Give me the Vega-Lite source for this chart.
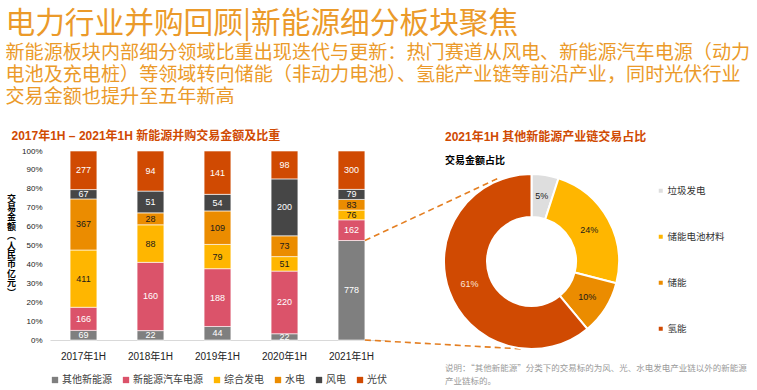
{
  "$schema": "https://vega.github.io/schema/vega-lite/v6.json",
  "background": "white",
  "padding": {"left": 5, "top": 8, "right": 0, "bottom": 0},
  "bounds": "flush",
  "spacing": 57,
  "config": {
    "view": {"stroke": null},
    "font": "Liberation Sans, Noto Sans CJK SC"
  },
  "resolve": {"scale": {"color": "independent"}, "legend": {"color": "independent"}},
  "title": {
    "text": "电力行业并购回顾|新能源细分板块聚焦",
    "subtitle": [
      "新能源板块内部细分领域比重出现迭代与更新：热门赛道从风电、新能源汽车电源（动力",
      "电池及充电桩）等领域转向储能（非动力电池）、氢能产业链等前沿产业，同时光伏行业",
      "交易金额也提升至五年新高"
    ],
    "anchor": "start",
    "frame": "bounds",
    "dx": -1,
    "font": "Noto Sans CJK SC",
    "fontSize": 29.7,
    "fontWeight": "normal",
    "color": "#EB9A2A",
    "subtitleFont": "Noto Sans CJK SC",
    "subtitleFontSize": 19.1,
    "subtitleColor": "#EB9A2A",
    "subtitleLineHeight": 21.8,
    "subtitlePadding": 5,
    "offset": 22
  },
  "datasets": {
    "deals": [
      {"year": "2017年1H", "cat": "其他新能源", "k": 1, "v": 69},
      {"year": "2017年1H", "cat": "新能源汽车电源", "k": 2, "v": 166},
      {"year": "2017年1H", "cat": "综合发电", "k": 3, "v": 411},
      {"year": "2017年1H", "cat": "水电", "k": 4, "v": 367},
      {"year": "2017年1H", "cat": "风电", "k": 5, "v": 67},
      {"year": "2017年1H", "cat": "光伏", "k": 6, "v": 277},
      {"year": "2018年1H", "cat": "其他新能源", "k": 1, "v": 22},
      {"year": "2018年1H", "cat": "新能源汽车电源", "k": 2, "v": 160},
      {"year": "2018年1H", "cat": "综合发电", "k": 3, "v": 88},
      {"year": "2018年1H", "cat": "水电", "k": 4, "v": 28},
      {"year": "2018年1H", "cat": "风电", "k": 5, "v": 51},
      {"year": "2018年1H", "cat": "光伏", "k": 6, "v": 94},
      {"year": "2019年1H", "cat": "其他新能源", "k": 1, "v": 44},
      {"year": "2019年1H", "cat": "新能源汽车电源", "k": 2, "v": 188},
      {"year": "2019年1H", "cat": "综合发电", "k": 3, "v": 79},
      {"year": "2019年1H", "cat": "水电", "k": 4, "v": 109},
      {"year": "2019年1H", "cat": "风电", "k": 5, "v": 54},
      {"year": "2019年1H", "cat": "光伏", "k": 6, "v": 141},
      {"year": "2020年1H", "cat": "其他新能源", "k": 1, "v": 22},
      {"year": "2020年1H", "cat": "新能源汽车电源", "k": 2, "v": 220},
      {"year": "2020年1H", "cat": "综合发电", "k": 3, "v": 51},
      {"year": "2020年1H", "cat": "水电", "k": 4, "v": 73},
      {"year": "2020年1H", "cat": "风电", "k": 5, "v": 200},
      {"year": "2020年1H", "cat": "光伏", "k": 6, "v": 98},
      {"year": "2021年1H", "cat": "其他新能源", "k": 1, "v": 778},
      {"year": "2021年1H", "cat": "新能源汽车电源", "k": 2, "v": 162},
      {"year": "2021年1H", "cat": "综合发电", "k": 3, "v": 76},
      {"year": "2021年1H", "cat": "水电", "k": 4, "v": 83},
      {"year": "2021年1H", "cat": "风电", "k": 5, "v": 79},
      {"year": "2021年1H", "cat": "光伏", "k": 6, "v": 300}
    ],
    "chain": [
      {"cat": "垃圾发电", "k": 1, "share": 0.05},
      {"cat": "储能电池材料", "k": 2, "share": 0.24},
      {"cat": "储能", "k": 3, "share": 0.10},
      {"cat": "氢能", "k": 4, "share": 0.61}
    ],
    "links": [
      {"x": 0.94, "y": 0.5264, "x2": 1.34, "y2": 0.857},
      {"x": 0.94, "y": 0, "x2": 1.415, "y2": -0.048}
    ]
  },
  "hconcat": [
    {
      "width": 335,
      "height": 189,
      "title": {
        "text": "2017年1H – 2021年1H 新能源并购交易金额及比重",
        "anchor": "start",
        "fontSize": 12,
        "fontWeight": "bold",
        "color": "#D04A02",
        "offset": 4,
        "dx": 5
      },
      "layer": [
        {
          "data": {"name": "deals"},
          "layer": [
            {
              "mark": {"type": "bar", "stroke": "white", "strokeWidth": 0.6},
              "encoding": {
                "x": {
                  "field": "year", "type": "nominal",
                  "scale": {"paddingInner": 0.6, "paddingOuter": 0.3},
                  "axis": {
                    "title": null, "labelAngle": 0, "labelFontSize": 10, "labelColor": "#222",
                    "ticks": false, "domainColor": "#D9D9D9", "labelPadding": 11
                  }
                },
                "y": {
                  "field": "v", "type": "quantitative", "stack": "normalize",
                  "scale": {"domain": [0, 1], "nice": false},
                  "axis": {
                    "title": ["交", "易", "金", "额", "︵", "人", "民", "币", "亿", "元", "︶"],
                    "values": [0, 0.1, 0.2, 0.3, 0.4, 0.5, 0.6, 0.7, 0.8, 0.9, 1],
                    "format": ".0%",
                    "labelFontSize": 8, "labelColor": "#222", "labelPadding": 8,
                    "ticks": false, "domain": false, "grid": false,
                    "titleFont": "Noto Sans CJK SC",
                    "titleFontSize": 9, "titleFontWeight": "bold", "titleColor": "black",
                    "titleAngle": 0, "titleAlign": "center", "titleBaseline": "middle",
                    "titleLineHeight": 9.4, "titleX": -39, "titleY": 47
                  }
                },
                "color": {
                  "field": "cat", "type": "nominal",
                  "scale": {
                    "domain": ["其他新能源", "新能源汽车电源", "综合发电", "水电", "风电", "光伏"],
                    "range": ["#7F7F7F", "#DB536A", "#FFB600", "#EB8C00", "#464646", "#D04A02"]
                  },
                  "legend": {
                    "orient": "bottom", "direction": "horizontal", "title": null,
                    "symbolType": "square", "symbolSize": 40, "symbolStrokeWidth": 0,
                    "labelFontSize": 10, "labelColor": "#404040", "labelOffset": 2,
                    "columnPadding": 9, "offset": 14
                  }
                },
                "order": {"field": "k", "type": "quantitative"}
              }
            },
            {
              "transform": [
                {"stack": "v", "groupby": ["year"], "sort": [{"field": "k"}], "offset": "normalize", "as": ["y0", "y1"]},
                {"fold": ["y0", "y1"], "as": ["end", "pos"]}
              ],
              "mark": {"type": "text", "fontSize": 9, "baseline": "middle"},
              "encoding": {
                "x": {"field": "year", "type": "nominal"},
                "y": {"aggregate": "mean", "field": "pos", "type": "quantitative", "scale": {"domain": [0, 1], "nice": false}, "axis": null},
                "detail": {"field": "cat"},
                "text": {"field": "v", "type": "quantitative"},
                "color": {
                  "condition": {"test": "datum.cat === '综合发电' || datum.cat === '水电'", "value": "#1A1A1A"},
                  "value": "white"
                }
              }
            }
          ],
          "resolve": {"axis": {"y": "independent"}}
        },
        {
          "data": {"name": "links"},
          "mark": {"type": "rule", "color": "#E47F22", "strokeWidth": 1.6, "strokeDash": [6, 4]},
          "encoding": {
            "x": {"field": "x", "type": "quantitative", "scale": {"domain": [0, 1], "nice": false, "zero": false}, "axis": null},
            "x2": {"field": "x2"},
            "y": {"field": "y", "type": "quantitative", "scale": {"domain": [0, 1], "nice": false}, "axis": null},
            "y2": {"field": "y2"}
          }
        }
      ],
      "resolve": {"scale": {"x": "independent"}, "axis": {"x": "independent", "y": "independent"}}
    },
    {
      "bounds": "flush",
      "spacing": 15,
      "vconcat": [
        {
          "width": 179,
          "height": 221,
          "title": {
            "text": "2021年1H 其他新能源产业链交易占比",
            "subtitle": "交易金额占比",
            "anchor": "start",
            "frame": "group",
            "fontSize": 12,
            "fontWeight": "bold",
            "color": "#D04A02",
            "subtitleFont": "Liberation Sans, Noto Sans CJK SC",
            "subtitleFontSize": 10,
            "subtitleFontWeight": "bold",
            "subtitleColor": "black",
            "subtitlePadding": 12,
            "offset": -16,
            "dx": 3
          },
          "data": {"name": "chain"},
          "layer": [
            {
              "mark": {"type": "arc", "innerRadius": 44.5, "outerRadius": 87.5, "stroke": "white", "strokeWidth": 2},
              "encoding": {
                "theta": {"field": "share", "type": "quantitative", "stack": true},
                "order": {"field": "k", "type": "quantitative"},
                "color": {
                  "field": "cat", "type": "nominal",
                  "scale": {
                    "domain": ["垃圾发电", "储能电池材料", "储能", "氢能"],
                    "range": ["#DEDEDE", "#FFB600", "#EB8C00", "#D04A02"]
                  },
                  "legend": {
                    "orient": "none", "legendX": 214, "legendY": 35, "title": null,
                    "direction": "vertical",
                    "symbolType": "square", "symbolSize": 16, "symbolStrokeWidth": 0,
                    "labelFontSize": 9.5, "labelColor": "#333", "labelOffset": 2,
                    "rowPadding": 35
                  }
                }
              }
            },
            {
              "mark": {"type": "text", "radius": 66, "fontSize": 9, "baseline": "middle"},
              "encoding": {
                "theta": {"field": "share", "type": "quantitative", "stack": true},
                "order": {"field": "k", "type": "quantitative"},
                "text": {"field": "share", "type": "quantitative", "format": ".0%"},
                "color": {
                  "condition": {"test": "datum.cat === '氢能'", "value": "#FBE3D6"},
                  "value": "#1A1A1A"
                }
              }
            }
          ]
        },
        {
          "width": 310,
          "height": 0,
          "data": {"values": []},
          "mark": {"type": "point", "opacity": 0},
          "encoding": {},
          "title": {
            "text": ["说明：“其他新能源”分类下的交易标的为风、光、水电发电产业链以外的新能源", "产业链标的。"],
            "anchor": "start",
            "frame": "group",
            "font": "Noto Sans CJK SC",
            "fontSize": 8.5,
            "fontWeight": "normal",
            "color": "#9A9A9A",
            "lineHeight": 12.5,
            "offset": 2,
            "dx": 3
          }
        }
      ]
    }
  ]
}
